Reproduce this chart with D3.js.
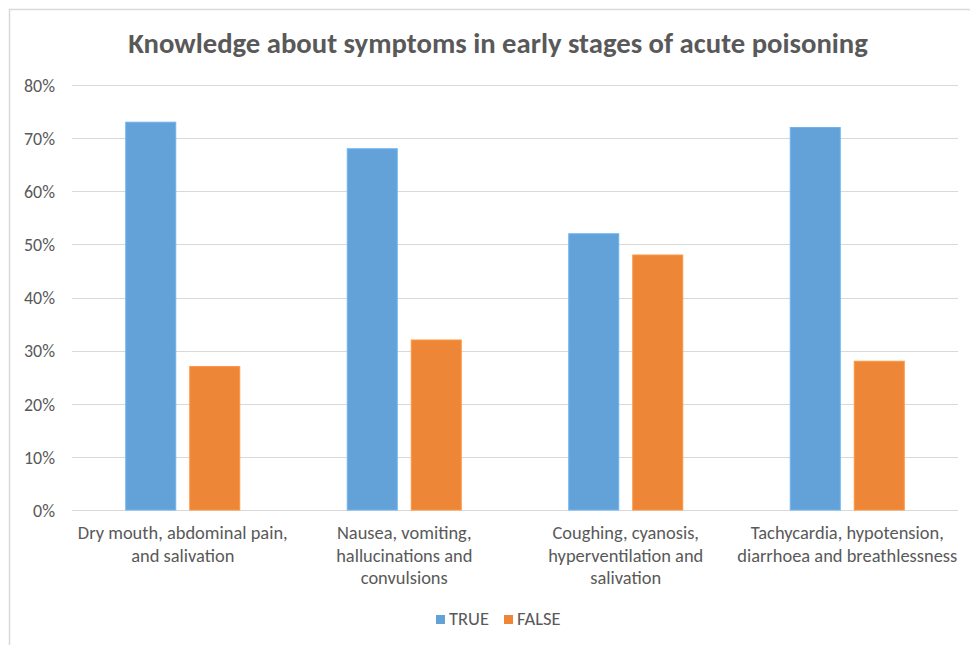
<!DOCTYPE html>
<html>
<head>
<meta charset="utf-8">
<script src="https://cdn.jsdelivr.net/npm/d3@7"></script>
<style>
html,body{margin:0;padding:0;background:#fff;}
svg text{font-family:Calibri,Carlito,"Open Sans","Liberation Sans",sans-serif;fill:#595959;}
</style>
</head>
<body>
<svg id="chart" width="970" height="645"></svg>
<script>
'use strict';

var categories=[
    ['Dry mouth, abdominal pain,','and salivation']
  , ['Nausea, vomiting,','hallucinations and','convulsions']
  , ['Coughing, cyanosis,','hyperventilation and','salivation']
  , ['Tachycardia, hypotension,','diarrhoea and breathlessness']
];
var seriesNames=['TRUE','FALSE'];
var trueValues=[0.73,0.68,0.52,0.72];
var falseValues=[0.27,0.32,0.48,0.28];
var yTicks=[0,0.1,0.2,0.3,0.4,0.5,0.6,0.7,0.8];
var colors=['#62A2D8','#EE8638'];

var svg=d3.select('#chart')
  , plotLeft=72
  , plotRight=958
  , plotTop=85
  , plotBottom=510

// scale a font so a sample string gets the width it has in the original
function fitSize(text,base,target){
    var t=svg.append('text').style('font-size',base+'px').text(text)
      , w=t.node().getComputedTextLength();
    t.remove();
    return w>0?base*target/w:base;
}
var labelSize=fitSize('Dry mouth, abdominal pain,',15,210)
  , tickSize=fitSize('80%',15,31)
  , legendSize=fitSize('TRUE',15,40)

// frame
svg.append('rect')
    .attr('x',9.5).attr('y',9.5)
    .attr('width',980).attr('height',660)
    .attr('fill','none')
    .attr('stroke','#d9d9d9')
    .attr('stroke-width',1.5);

// title, fitted to width of the original
var title=svg.append('text')
    .attr('x',498).attr('y',53)
    .attr('text-anchor','middle')
    .style('font-size','24px')
    .style('font-weight','600')
    .text('Knowledge about symptoms in early stages of acute poisoning');
var tw=title.node().getComputedTextLength();
if(tw>0) title.style('font-size',(24*740/tw)+'px');

var x0=d3.scaleBand()
    .domain(d3.range(categories.length))
    .range([plotLeft,plotRight])
    .paddingInner(0)
    .paddingOuter(0);

var y=d3.scaleLinear().domain([0,0.8]).range([plotBottom,plotTop]);

// gridlines
svg.append('g')
    .selectAll('line')
    .data(yTicks)
    .join('line')
    .attr('x1',plotLeft).attr('x2',plotRight)
    .attr('y1',function(d){return Math.round(y(d))+0.5;})
    .attr('y2',function(d){return Math.round(y(d))+0.5;})
    .attr('stroke','#d9d9d9')
    .attr('stroke-width',1);

// y axis labels
var yAxis=d3.axisLeft(y)
    .tickValues(yTicks)
    .tickFormat(d3.format('.0%'))
    .tickSize(0)
    .tickPadding(0);
var ya=svg.append('g')
    .attr('transform','translate(55,0)')
    .call(yAxis);
ya.select('.domain').remove();
ya.selectAll('text')
    .style('font-size',tickSize+'px')
    .style('font-family',null)
    .attr('font-family',null)
    .attr('fill','#595959')
    .attr('dy','0.35em');

// bars
var bw=50, gap=14;
var series=[trueValues,falseValues];
series.forEach(function(vals,si){
    svg.append('g')
        .selectAll('rect')
        .data(vals)
        .join('rect')
        .attr('x',function(d,i){
            var c=x0(i)+x0.bandwidth()/2;
            return si==0?c-gap/2-bw:c+gap/2;
        })
        .attr('y',function(d){return y(d);})
        .attr('width',bw)
        .attr('height',function(d){return y(0)-y(d);})
        .attr('fill',colors[si])
        .attr('stroke',d3.color(colors[si]).brighter(0.3))
        .attr('stroke-width',1);
});

// category labels
var cl=svg.append('g')
    .selectAll('text')
    .data(categories)
    .join('text')
    .attr('text-anchor','middle')
    .style('font-size',labelSize+'px')
    .attr('transform',function(d,i){
        return 'translate('+(x0(i)+x0.bandwidth()/2)+',539)';
    });
cl.selectAll('tspan')
    .data(function(d){return d;})
    .join('tspan')
    .attr('x',0)
    .attr('y',function(d,i){return i*22.5;})
    .text(function(d){return d;});

// legend
var lg=svg.append('g').attr('transform','translate(436,619)');
var items=[{n:seriesNames[0],c:colors[0],x:0},{n:seriesNames[1],c:colors[1],x:68}];
items.forEach(function(it){
    lg.append('rect')
        .attr('x',it.x).attr('y',-4)
        .attr('width',9).attr('height',9)
        .attr('fill',it.c);
    lg.append('text')
        .attr('x',it.x+13).attr('y',0)
        .attr('dy','0.35em')
        .style('font-size',legendSize+'px')
        .text(it.n);
});
</script>
</body>
</html>
